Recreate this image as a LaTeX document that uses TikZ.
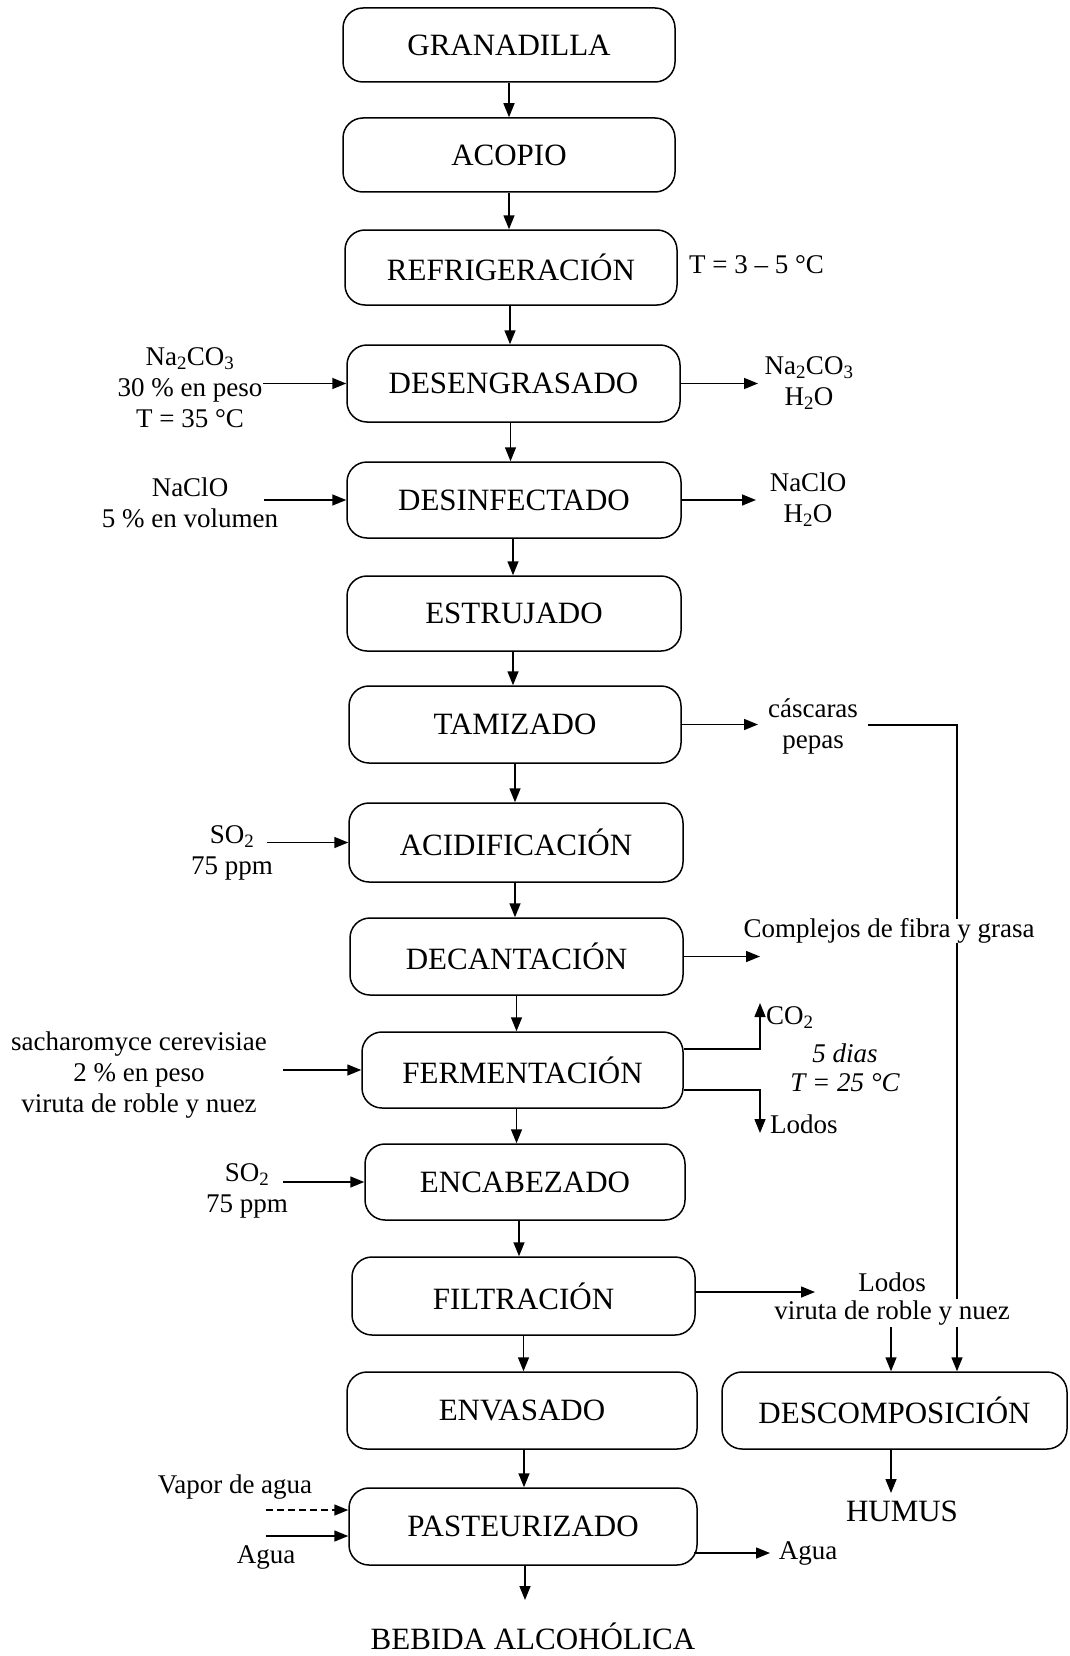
\documentclass[tikz,border=0pt]{standalone}
\usepackage{fontspec}
\setmainfont{Liberation Serif}
\usetikzlibrary{arrows.meta}
\begin{document}
\begin{tikzpicture}[x=1pt,y=-1pt,
  box/.style={draw, line width=1.5pt, rounded corners=20pt, minimum height=76pt, inner sep=0pt, font=\fontsize{31}{36}\selectfont},
  lbl/.style={font=\fontsize{27}{31}\selectfont, align=center, inner sep=1pt},
  big/.style={font=\fontsize{31}{36}\selectfont, inner sep=1pt},
  arr/.style={line width=1.5pt, -{Triangle[length=14pt,width=11pt]}},
  ln/.style={line width=1.5pt}]
\useasboundingbox (0,0) rectangle (1069,1656);
% main boxes
\node[box, minimum width=332pt, minimum height=74pt] (gran) at (509,45) {GRANADILLA};
\node[box, minimum width=332pt, minimum height=74pt] (acop) at (509,155) {ACOPIO};
\node[box, minimum width=332pt, minimum height=75pt] (refr) at (511,267.5) {REFRIGERACIÓN};
\node[box, minimum width=333pt, minimum height=77pt] (deseng) at (513.5,383.5) {DESENGRASADO};
\node[box, minimum width=334pt, minimum height=76pt] (desinf) at (514,500) {DESINFECTADO};
\node[box, minimum width=334pt, minimum height=75pt] (estr) at (514,613.5) {ESTRUJADO};
\node[box, minimum width=332pt, minimum height=77pt] (tami) at (515,724.5) {TAMIZADO};
\node[box, minimum width=334pt, minimum height=79pt] (acid) at (516,842.5) {ACIDIFICACIÓN};
\node[box, minimum width=333pt, minimum height=77pt] (deca) at (516.5,956.5) {DECANTACIÓN};
\node[box, minimum width=321pt, minimum height=76pt] (ferm) at (522.5,1070) {FERMENTACIÓN};
\node[box, minimum width=320pt, minimum height=76pt] (encab) at (525,1182) {ENCABEZADO};
\node[box, minimum width=343pt, minimum height=78pt] (filt) at (523.5,1296) {FILTRACIÓN};
\node[box, minimum width=350pt, minimum height=77pt] (envas) at (522,1410.5) {ENVASADO};
\node[box, minimum width=348pt, minimum height=77pt] (paste) at (523,1526.5) {PASTEURIZADO};
\node[box, minimum width=345pt, minimum height=77pt] (descomp) at (894.5,1410.5) {DESCOMPOSICIÓN};
\node[big] (bebida) at (533,1636) {BEBIDA ALCOHÓLICA};
\node[big] (humus) at (902,1511) {HUMUS};
% main flow
\draw[arr] (gran.south) -- (gran.south |- acop.north);
\draw[arr] (acop.south) -- (acop.south |- refr.north);
\draw[arr] ([xshift=-1pt]refr.south) -- ([xshift=-1pt]refr.south |- deseng.north);
\draw[arr] ([xshift=-3pt]deseng.south) -- ([xshift=-3pt]deseng.south |- desinf.north);
\draw[arr] ([xshift=-1pt]desinf.south) -- ([xshift=-1pt]desinf.south |- estr.north);
\draw[arr] ([xshift=-1pt]estr.south) -- ([xshift=-1pt]estr.south |- tami.north);
\draw[arr] (tami.south) -- (tami.south |- acid.north);
\draw[arr] ([xshift=-1pt]acid.south) -- ([xshift=-1pt]acid.south |- deca.north);
\draw[arr] (deca.south) -- (deca.south |- ferm.north);
\draw[arr] ([xshift=-6pt]ferm.south) -- ([xshift=-6pt]ferm.south |- encab.north);
\draw[arr] ([xshift=-6pt]encab.south) -- ([xshift=-6pt]encab.south |- filt.north);
\draw[arr] (filt.south) -- (filt.south |- envas.north);
\draw[arr] ([xshift=2pt]envas.south) -- ([xshift=2pt]envas.south |- paste.north);
\draw[arr] ([xshift=2pt]paste.south) -- ([xshift=2pt]paste.south |- 0,1600);
% REFRIGERACION
\node[lbl, anchor=west] (trefr) at (688,265) {T = 3 – 5 °C};
% DESENGRASADO
\node[lbl] (indeseng) at (190,388) {Na\textsubscript{2}CO\textsubscript{3}\\30 \% en peso\\T = 35 °C};
\coordinate (c1) at (263,383.5);
\draw[arr] (c1) -- (deseng.west);
\node[lbl] (outdeseng) at (809,383.5) {Na\textsubscript{2}CO\textsubscript{3}\\H\textsubscript{2}O};
\coordinate (c2) at (758,383.5);
\draw[arr] (deseng.east) -- (c2);
% DESINFECTADO
\node[lbl] (indesinf) at (190,503) {NaClO\\5 \% en volumen};
\coordinate (c3) at (264,500);
\draw[arr] (c3) -- (desinf.west);
\node[lbl] (outdesinf) at (808,500) {NaClO\\H\textsubscript{2}O};
\coordinate (c4) at (756,500);
\draw[arr] (desinf.east) -- (c4);
% TAMIZADO
\node[lbl] (cas) at (813,726) {cáscaras\\pepas};
\coordinate (c5) at (758,724.5);
\draw[arr] (tami.east) -- (c5);
\coordinate (k0) at (868,725);
\coordinate (k1) at (957,725);
\draw[ln, -{Triangle[length=14pt,width=11pt]}] (k0) -- (k1) -- (k1 |- descomp.north);
% ACIDIFICACION
\node[lbl] (inacid) at (232,853) {SO\textsubscript{2}\\75 ppm};
\coordinate (c6) at (267,842.5);
\draw[arr] (c6) -- (acid.west);
% DECANTACION
\coordinate (c7) at (760,956.5);
\draw[arr] (deca.east) -- (c7);
\node[lbl, fill=white, inner sep=0pt] (compl) at (889,931) {Complejos de fibra y grasa};
% FERMENTACION
\node[lbl] (inferm) at (139,1075) {sacharomyce cerevisiae\\2 \% en peso\\viruta de roble y nuez};
\coordinate (c8) at (283,1070);
\draw[arr] (c8) -- (ferm.west);
\coordinate (c9) at (760,1049);
\coordinate (c10) at (760,1003);
\draw[arr] ([yshift=21pt]ferm.east) -- (c9) -- (c10);
\coordinate (c11) at (760,1090);
\coordinate (c12) at (760,1133);
\draw[arr] ([yshift=-20pt]ferm.east) -- (c11) -- (c12);
\node[lbl, anchor=west] (co2) at (765,1018) {CO\textsubscript{2}};
\node[lbl, anchor=west] (lodos1) at (769,1124) {Lodos};
\node[lbl, font=\fontsize{27}{31}\selectfont\itshape] (dias) at (845,1053) {5 dias};
\node[lbl, font=\fontsize{27}{31}\selectfont\itshape] (temp) at (845,1083) {T = 25 °C};
% ENCABEZADO
\node[lbl] (inencab) at (247,1191) {SO\textsubscript{2}\\75 ppm};
\coordinate (c13) at (283,1182);
\draw[arr] (c13) -- (encab.west);
% FILTRACION
\coordinate (c14) at (815,1292);
\draw[arr] ([yshift=4pt]filt.east) -- (c14);
\node[lbl] (lodos2) at (892,1282) {Lodos};
\node[lbl, fill=white, inner sep=2pt] (viruta) at (892,1313) {viruta de roble y nuez};
\draw[arr] (viruta.south -| 891,0) -- (891,0 |- descomp.north);
% DESCOMPOSICION
\coordinate (c15) at (891,1493);
\draw[arr] (891,0 |- descomp.south) -- (c15);
% PASTEURIZADO
\node[lbl] (vapor) at (235,1487) {Vapor de agua};
\node[lbl] (agua1) at (266,1557) {Agua};
\coordinate (c16) at (266,1510);
\coordinate (c17) at (266,1536);
\draw[arr, dash pattern=on 7pt off 4pt] (c16) -- ([yshift=16.5pt]paste.west);
\draw[arr] (c17) -- ([yshift=-9.5pt]paste.west);
\coordinate (c18) at (770,1553);
\draw[arr] ([yshift=-26.5pt,xshift=-4pt]paste.east) -- (c18);
\node[lbl] (agua2) at (808,1553) {Agua};
\end{tikzpicture}
\end{document}
